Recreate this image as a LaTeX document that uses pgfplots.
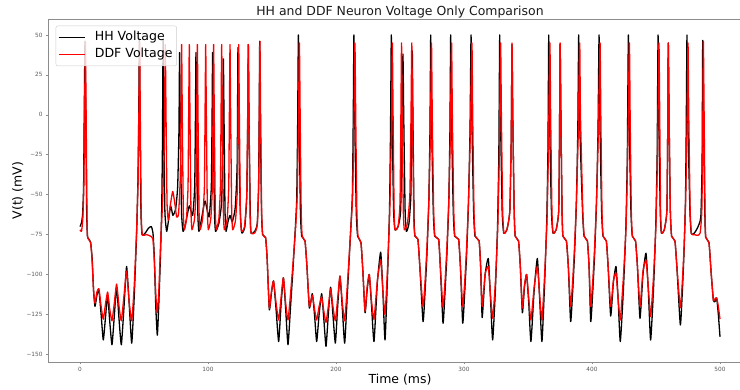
\documentclass[border=0pt]{standalone}
\usepackage{fontspec}
\setmainfont{DejaVu Sans}
\usepackage{pgfplots}
\pgfplotsset{compat=1.18}
\begin{document}
\begin{tikzpicture}
\path[use as bounding box] (0,0) rectangle (740bp,390bp);
\clip (0,0) rectangle (740bp,390bp);
\begin{axis}[
  at={(48bp,28bp)}, anchor=south west,
  scale only axis, width=704bp, height=342.7bp,
  xmin=-25, xmax=525, ymin=-154.8, ymax=59.8,
  xtick={0,100,200,300,400,500},
  xticklabels={0,100,200,300,400,500},
  ytick={-150,-125,-100,-75,-50,-25,0,25,50},
  yticklabels={−150,−125,−100,−75,−50,−25,0,25,50},
  tick label style={font=\fontsize{5.8}{7}\selectfont, color=black!65},
  tick align=outside, major tick length=2bp,
  tick style={black!45, line width=0.5bp},
  xtick pos=bottom, ytick pos=left,
  axis line style={black!45, line width=0.6bp},
  every axis title shift=0pt,
  title={HH and DDF Neuron Voltage Only Comparison},
  title style={at={(axis description cs:0.5,1.0125)}, anchor=base, yshift=0pt, font=\fontsize{12.5}{14}\selectfont, color=black!90},
  xlabel={Time (ms)},
  xlabel style={at={(axis description cs:0.5,-0.0642)}, anchor=base, font=\fontsize{12.5}{14}\selectfont},
  ylabel={V(t) (mV)},
  ylabel style={at={(axis description cs:-0.0374,0.5)}, anchor=base, font=\fontsize{12.5}{14}\selectfont},
  no markers,
  every axis plot/.append style={line width=1.3bp, line join=round, smooth, tension=0.3},
  legend cell align=left,
  legend image code/.code={\draw[#1, line width=1.3bp, sharp plot] (0bp,0bp) -- (26bp,0bp);},
  legend style={at={(axis description cs:0.0109,0.9813)}, anchor=north west,
    font=\fontsize{12.6}{14}\selectfont, draw=black!20, rounded corners=2bp,
    fill=white, fill opacity=0.8, text opacity=1, draw opacity=1,
    inner xsep=2.2bp, inner ysep=2.5bp, row sep=0bp,
    nodes={inner xsep=2bp, inner ysep=2.5bp, text height=9.5bp, text depth=3bp},
    /tikz/every odd column/.append style={column sep=7.5bp}},
]
\addplot[black] coordinates {
(0,-70)(1,-68)(2,-63)(2.8,-45)(3.3,0)(3.9,46)(4.5,0)(5.2,-60)(5.8,-76)(7,-78)(8.3,-80)(9.5,-90)(10.6,-110)(11.7,-120)(13.2,-113)(14.8,-110)(16.5,-125)(18.2,-141)(20,-126)(21.6,-113)(23.3,-130)(25,-144)(26.8,-126)(28.6,-108)(30.5,-128)(32.3,-144)(34.4,-120)(36.4,-95)(38.4,-118)(40.4,-143)(42.3,-115)(44.2,-75)(45.3,-40)(45.9,0)(46.4,48)(46.9,0)(47.6,-60)(48.5,-75)(51,-74)(53.5,-71)(55.7,-70)(57,-74)(58,-88)(59.2,-120)(60.4,-138)(61.5,-120)(62.8,-90)(63.8,-60)(64.4,-20)(64.9,47)(65.4,0)(66.3,-60)(67.7,-73)(69,-67)(70.8,-57)(72.6,-63)(74.7,-59)(76.3,-45)(77.3,-10)(77.8,39)(78.3,0)(79.3,-60)(80.5,-73)(82.5,-68)(85.4,-57)(88,-63)(89.6,-45)(90.2,0)(90.6,39)(91.1,0)(92,-60)(92.9,-73)(95.2,-64)(97.7,-54)(100.8,-64)(102.6,-45)(103.2,0)(103.6,39)(104.1,0)(105,-60)(105.9,-73)(108.5,-68)(110.6,-55)(111.5,-20)(112,35)(112.5,0)(113.3,-60)(114.1,-73)(115.6,-67)(117.2,-63)(119,-67)(121.3,-58)(122.8,-30)(123.4,42)(123.9,0)(125.2,-60)(126.4,-74)(128.8,-70)(130.3,-50)(131.1,0)(131.5,44)(132,0)(133,-60)(133.6,-74)(136.5,-73)(138.5,-68)(139.5,-45)(140,0)(140.4,46)(140.9,0)(141.8,-60)(142.7,-75)(145,-77)(146.2,-90)(147.9,-122)(149.5,-112)(151.2,-104)(153.2,-122)(155.2,-142)(157,-120)(158.9,-102)(160.7,-122)(162.5,-144)(164.5,-120)(166.5,-95)(168.3,-70)(169.3,-53)(170,-10)(170.6,50)(171.2,0)(172.2,-60)(173.2,-76)(175.8,-79)(177.3,-95)(179.2,-121)(181.5,-112)(183.3,-126)(184.9,-142)(186.8,-125)(188.8,-112)(190.5,-128)(192.2,-145)(194,-125)(195.8,-108)(197.6,-125)(199.5,-143)(201.3,-120)(203.1,-101)(205,-122)(206.8,-143)(209,-110)(211.3,-75)(212.8,-50)(213.5,0)(214,50)(214.6,0)(215.8,-60)(216.9,-76)(219.5,-80)(221,-98)(222.7,-124)(224.3,-110)(226,-100)(227.8,-120)(229.7,-142)(232.3,-105)(234.9,-86)(236.6,-110)(238.3,-141)(240.3,-100)(241.8,-60)(242.6,-10)(243.2,50)(243.8,0)(245,-60)(246.1,-72)(248.5,-70)(250.5,-60)(251.7,-10)(252.3,38)(252.9,0)(254,-60)(255,-73)(257,-68)(258.5,-50)(259.2,0)(259.6,40)(260.1,0)(261,-65)(261.7,-76)(264,-78)(265.5,-95)(268,-129.5)(269.5,-112)(271,-88)(272.5,-55)(273.4,-10)(274,50)(274.6,0)(276,-60)(277.1,-76)(280.2,-78)(281.5,-95)(283.6,-130.5)(285.1,-112)(286.6,-88)(288.1,-55)(289,-10)(289.6,50)(290.2,0)(291.6,-60)(292.7,-76)(295.8,-78)(297.2,-95)(299,-130.5)(300.5,-112)(302,-88)(303.5,-55)(304.7,-10)(305.5,50)(306.1,0)(307.5,-60)(308.6,-76)(311.8,-79)(313,-95)(314.2,-127)(316.5,-100)(319,-90)(320.7,-115)(322.4,-141)(324.5,-110)(326.2,-70)(327.2,-25)(327.9,50)(328.5,0)(329.8,-60)(331,-74)(333.5,-72)(335.8,-60)(336.9,-15)(337.5,44)(338.1,0)(339.2,-60)(340,-76)(342.6,-79)(344,-95)(345.6,-124)(347.2,-108)(348.9,-100)(350.6,-118)(352.3,-142)(354.8,-110)(357.3,-90)(359.1,-115)(360.9,-142)(363,-105)(364.7,-65)(365.6,-20)(366.2,50)(366.8,0)(368.3,-60)(369.5,-74)(372,-72)(374,-60)(374.6,-15)(375.1,44)(375.7,0)(376.6,-60)(377.3,-76)(380,-79)(381.5,-95)(383.3,-129.5)(384.8,-112)(386.3,-88)(387.8,-55)(388.9,-10)(389.6,50)(390.2,0)(392.6,-60)(393.8,-76)(396.4,-79)(397.7,-95)(399,-129.5)(400.5,-112)(402,-88)(403.5,-55)(404.7,-10)(405.5,50)(406.1,0)(407.5,-60)(408.6,-76)(411.2,-79)(412.6,-95)(414.6,-126)(416.7,-105)(418.75,-95)(420.4,-115)(422.1,-142)(424.5,-110)(426.5,-70)(427.6,-25)(428.4,50)(429,0)(430.4,-60)(431.5,-76)(434,-79)(435.5,-95)(437.5,-127.5)(439.8,-100)(442.2,-86.7)(444,-110)(445.8,-141)(448,-110)(449.8,-70)(450.9,-25)(451.6,50)(452.2,0)(453.3,-60)(454.2,-74)(456.5,-72)(458.5,-60)(459.1,-15)(459.6,45)(460.2,0)(461.2,-60)(462.2,-76)(464.8,-79)(466.3,-95)(469,-131.6)(470.5,-112)(471.8,-88)(473,-55)(473.6,-10)(474.2,50)(474.8,0)(476.5,-60)(477.6,-74.5)(480,-74)(482.3,-71)(485,-64)(486,-30)(486.5,46.6)(487.1,0)(488.1,-60)(488.8,-76.7)(491.4,-80)(493,-98)(494.8,-116)(496,-117)(497.4,-114.7)(498.7,-125)(500,-139)
};
\addlegendentry{HH Voltage}
\addplot[red] coordinates {
(0,-72)(1.2,-73)(2.2,-65)(3,-45)(3.6,0)(4.2,45.5)(4.8,0)(5.5,-65)(6,-77)(8.3,-80)(9.5,-92)(10.6,-110)(11.7,-118)(13.2,-111)(14.8,-109)(16.5,-120)(18.2,-128)(20,-118)(21.6,-111)(23.3,-122)(25,-129)(26.8,-118)(28.6,-106)(30.5,-120)(32.3,-129)(34.4,-113)(36.4,-98)(38.4,-117)(40.4,-129)(42.3,-108)(44.2,-73)(45.4,-40)(46,0)(46.6,45)(47.1,0)(47.8,-60)(48.6,-75)(52,-75)(55,-76)(57,-78)(58.3,-95)(59.4,-115)(60.4,-124)(61.6,-110)(63,-80)(64.5,-55)(65.8,-20)(66.6,44)(67.2,0)(68,-55)(69,-66)(70.5,-57)(72.4,-48)(74,-55)(75.5,-64)(77,-62)(78.3,-40)(78.9,0)(79.4,44)(79.9,0)(80.7,-60)(81.5,-72)(83.2,-65)(84.4,-45)(84.9,0)(85.4,44)(85.9,0)(86.7,-60)(87.5,-72)(89.5,-65)(90.7,-45)(91.2,0)(91.7,44)(92.2,0)(93,-60)(93.8,-72)(95.8,-65)(97.2,-45)(97.7,0)(98.2,44)(98.7,0)(99.5,-60)(100.3,-72)(102.2,-65)(103.4,-45)(103.9,0)(104.4,44)(104.9,0)(105.7,-60)(106.5,-72)(108.5,-65)(109.7,-45)(110.2,0)(110.7,44)(111.2,0)(112,-60)(112.8,-72)(115,-65)(116.2,-45)(116.7,0)(117.2,44)(117.7,0)(118.5,-60)(119.3,-72)(121.5,-66)(123,-45)(123.5,0)(124,44)(124.5,0)(125.3,-60)(126.2,-73)(128.5,-70)(130.3,-50)(131,0)(131.5,44)(132,0)(132.8,-60)(133.6,-74)(136.5,-74)(138.5,-69)(139.6,-45)(140.1,0)(140.6,46)(141.1,0)(141.9,-60)(142.7,-75)(145,-77)(146.2,-90)(147.9,-121)(149.5,-111)(151.2,-104)(153.2,-118)(155.2,-128.5)(157,-115)(158.9,-102)(160.7,-118)(162.5,-128.5)(164.5,-112)(166.5,-92)(168.5,-70)(169.7,-50)(170.6,-10)(171.4,45)(172,0)(172.8,-60)(173.6,-76)(175.8,-79)(177.3,-95)(179.2,-120)(181.5,-113)(183.3,-122)(184.9,-128.5)(186.8,-120)(188.8,-114)(190.5,-123)(192.2,-130)(194,-120)(195.8,-109)(197.6,-120)(199.5,-129)(201.3,-115)(203.1,-101)(205,-118)(206.8,-129)(209,-105)(211.3,-75)(213,-50)(214.1,0)(214.8,45)(215.4,0)(216.3,-60)(217.2,-76)(219.5,-80)(221,-98)(222.7,-123)(224.3,-108)(226,-100)(227.8,-117)(229.7,-128)(232.3,-104)(234.9,-91)(236.6,-110)(238.3,-125)(240.3,-95)(242,-60)(243.3,-10)(244,45)(244.6,0)(245.4,-60)(246.1,-72)(248.5,-70)(250,-55)(250.7,0)(251.2,45)(251.7,0)(252.6,-60)(253.4,-72)(255.8,-68)(257.7,-50)(258.6,0)(259.2,45)(259.8,0)(260.8,-65)(261.7,-76)(264,-78)(265.5,-95)(268,-120)(269.6,-104)(271.1,-82)(272.6,-52)(273.8,-10)(274.6,45)(275.2,0)(276.3,-60)(277.3,-76)(280.2,-78)(281.5,-95)(283.6,-120.5)(285.2,-104)(286.7,-82)(288.2,-52)(289.4,-10)(290.3,45)(290.9,0)(292,-60)(292.9,-76)(295.8,-78)(297.2,-95)(299,-120)(300.6,-104)(302.1,-82)(303.6,-52)(305,-10)(306.2,45)(306.8,0)(307.8,-60)(308.8,-76)(311.8,-79)(313,-95)(314.2,-120)(316.5,-100)(319,-95)(320.7,-113)(322.4,-127.4)(324.5,-105)(326.4,-70)(327.6,-25)(328.6,45)(329.2,0)(330.2,-60)(331.2,-74)(333.5,-72)(335.8,-60)(336.9,-15)(337.5,45)(338.1,0)(339.2,-60)(340,-76)(342.6,-79)(344,-95)(345.6,-121)(347.2,-107)(348.9,-100)(350.6,-115)(352.3,-128.5)(354.8,-108)(357.3,-95)(359.1,-113)(360.9,-128.5)(363,-100)(364.9,-65)(366,-20)(367.1,45)(367.7,0)(368.7,-60)(369.6,-74)(372,-72)(374,-60)(374.6,-15)(375.1,45)(375.7,0)(376.6,-60)(377.3,-76)(380,-79)(381.5,-95)(383.3,-120)(384.9,-104)(386.4,-82)(387.9,-52)(389.3,-10)(390.4,45)(391,0)(392.8,-60)(393.9,-76)(396.4,-79)(397.7,-95)(399,-120)(400.6,-104)(402.1,-82)(403.6,-52)(405,-10)(406.3,45)(406.9,0)(407.8,-60)(408.7,-76)(411.2,-79)(412.6,-95)(414.6,-120)(416.7,-104)(418.75,-99)(420.4,-115)(422.1,-128.5)(424.5,-102)(426.6,-70)(427.9,-25)(429.2,45)(429.8,0)(430.7,-60)(431.6,-76)(434,-79)(435.5,-95)(437.5,-120)(439.8,-98)(442.2,-91)(444,-108)(445.8,-126.4)(448,-102)(449.9,-70)(451.2,-25)(452.3,45)(452.9,0)(453.6,-60)(454.3,-74)(456.5,-72)(458.5,-60)(459.1,-15)(459.6,45)(460.2,0)(461.2,-60)(462.2,-76)(464.8,-79)(466.3,-95)(469,-120.8)(470.6,-104)(472,-82)(473.2,-52)(474.2,-10)(475,45)(475.6,0)(476.7,-60)(477.7,-74.5)(480,-75)(482.3,-75.5)(484.5,-74)(485.8,-60)(486.5,-15)(487,46)(487.6,0)(488.3,-60)(488.9,-76.7)(491.4,-80)(493,-98)(494.8,-116)(496.2,-115)(497.4,-114.7)(498.7,-120)(500,-128)
};
\addlegendentry{DDF Voltage}
\end{axis}
\end{tikzpicture}
\end{document}
